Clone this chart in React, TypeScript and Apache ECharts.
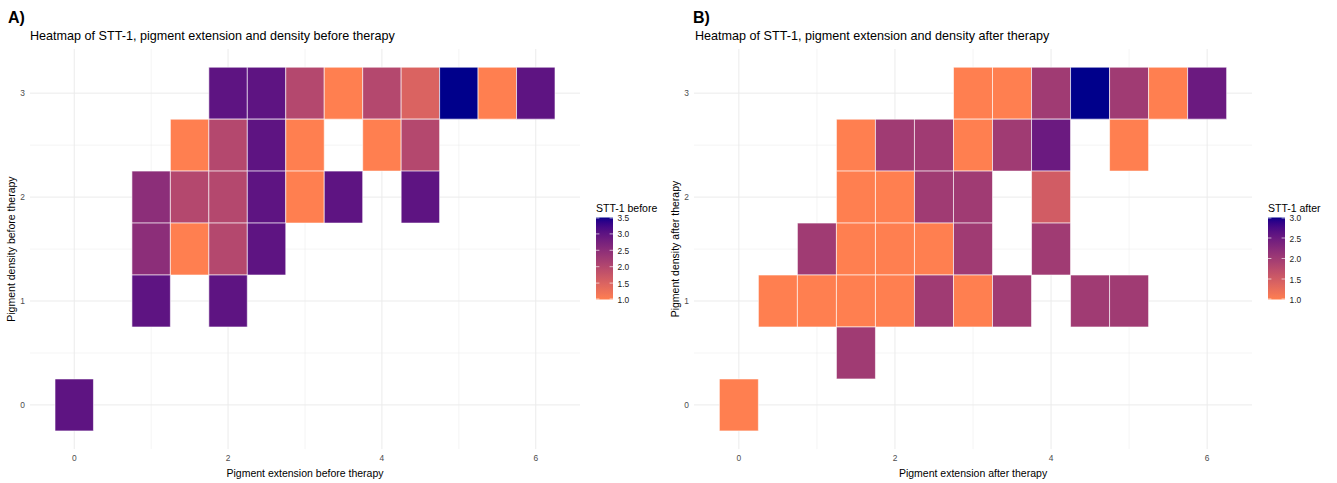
import React, { useEffect, useRef } from "react";
import * as echarts from "echarts";

// ---- Data: STT-1 by pigment extension (x) and pigment density (y) ----
const beforeExtension = [2, 2.5, 3, 3.5, 4, 4.5, 5, 5.5, 6, 1.5, 2, 2.5, 3, 4, 4.5, 1, 1.5, 2, 2.5, 3, 3.5, 4.5, 1, 1.5, 2, 2.5, 1, 2, 0];
const beforeDensity = [3, 3, 3, 3, 3, 3, 3, 3, 3, 2.5, 2.5, 2.5, 2.5, 2.5, 2.5, 2, 2, 2, 2, 2, 2, 2, 1.5, 1.5, 1.5, 1.5, 1, 1, 0];
const beforeStt = [3, 3, 2, 1, 2, 1.5, 3.5, 1, 3, 1, 2, 3, 1, 1, 2, 2.5, 2, 2, 3, 1, 3, 3, 2.5, 1, 2, 3, 3, 3, 3];

const afterExtension = [3, 3.5, 4, 4.5, 5, 5.5, 6, 1.5, 2, 2.5, 3, 3.5, 4, 5, 1.5, 2, 2.5, 3, 4, 1, 1.5, 2, 2.5, 3, 4, 0.5, 1, 1.5, 2, 2.5, 3, 3.5, 4.5, 5, 1.5, 0];
const afterDensity = [3, 3, 3, 3, 3, 3, 3, 2.5, 2.5, 2.5, 2.5, 2.5, 2.5, 2.5, 2, 2, 2, 2, 2, 1.5, 1.5, 1.5, 1.5, 1.5, 1.5, 1, 1, 1, 1, 1, 1, 1, 1, 1, 0.5, 0];
const afterStt = [1, 1, 2, 3, 2, 1, 2.5, 1, 2, 2, 1, 2, 2.5, 1, 1, 1, 2, 2, 1.5, 2, 1, 1, 1, 2, 2, 1, 1, 1, 1, 2, 1, 2, 2, 2, 2, 1];

// Axis ticks and legend breaks
const xTicks = [0, 2, 4, 6];
const yTicks = [0, 1, 2, 3];
const xGridMajor = [0, 2, 4, 6];
const xGridMinor = [1, 3, 5];
const yGridMajor = [0, 1, 2, 3];
const yGridMinor = [0.5, 1.5, 2.5];
const beforeBreaks = [1.0, 1.5, 2.0, 2.5, 3.0, 3.5];
const afterBreaks = [1.0, 1.5, 2.0, 2.5, 3.0];
const beforeRange = [1, 3.5];
const afterRange = [1, 3];

const LOW = "#FF7F50"; // coral
const HIGH = "#00008B"; // darkblue
const FONT = "'Liberation Sans', Arial, sans-serif";

// ---- CIE Lab interpolation between the two end colours ----
function hexToRgb(h: string) {
  const n = parseInt(h.slice(1), 16);
  return [(n >> 16) & 255, (n >> 8) & 255, n & 255];
}
const toLin = (c: number) => {
  const v = c / 255;
  return v <= 0.04045 ? v / 12.92 : Math.pow((v + 0.055) / 1.055, 2.4);
};
const fromLin = (v: number) => {
  const c = v <= 0.0031308 ? 12.92 * v : 1.055 * Math.pow(v, 1 / 2.4) - 0.055;
  return Math.max(0, Math.min(255, Math.round(c * 255)));
};
const Xn = 0.95047, Yn = 1.0, Zn = 1.08883;
const f = (t: number) => (t > 216 / 24389 ? Math.cbrt(t) : (841 / 108) * t + 4 / 29);
const finv = (t: number) => (t > 6 / 29 ? t * t * t : (108 / 841) * (t - 4 / 29));
function rgbToLab(hex: string) {
  const [r, g, b] = hexToRgb(hex).map(toLin);
  const X = 0.4124 * r + 0.3576 * g + 0.1805 * b;
  const Y = 0.2126 * r + 0.7152 * g + 0.0722 * b;
  const Z = 0.0193 * r + 0.1192 * g + 0.9505 * b;
  const fx = f(X / Xn), fy = f(Y / Yn), fz = f(Z / Zn);
  return [116 * fy - 16, 500 * (fx - fy), 200 * (fy - fz)];
}
function labToHex([L, a, b]: number[]) {
  const fy = (L + 16) / 116;
  const fx = fy + a / 500;
  const fz = fy - b / 200;
  const X = Xn * finv(fx), Y = Yn * finv(fy), Z = Zn * finv(fz);
  const r = 3.2406 * X - 1.5372 * Y - 0.4986 * Z;
  const g = -0.9689 * X + 1.8758 * Y + 0.0415 * Z;
  const bb = 0.0557 * X - 0.204 * Y + 1.057 * Z;
  return "#" + [r, g, bb].map((v) => fromLin(v).toString(16).padStart(2, "0")).join("");
}
const labLow = rgbToLab(LOW);
const labHigh = rgbToLab(HIGH);
function colorAt(t: number) {
  return labToHex(labLow.map((v, i) => v + (labHigh[i] - v) * t));
}
const STEPS = 40;
const rampColors = Array.from({ length: STEPS + 1 }, (_, i) => colorAt(i / STEPS));

function tiles(xs: number[], ys: number[], vs: number[]) {
  return xs.map((x, i) => [x, ys[i], vs[i]]);
}

const X_MIN = -0.575, X_MAX = 6.575;
const Y_MIN = -0.425, Y_MAX = 3.425;

function gridSeries(axisIndex: number) {
  const lines: any[] = [];
  xGridMajor.forEach((v) => lines.push(["x", v, 1]));
  xGridMinor.forEach((v) => lines.push(["x", v, 0.55]));
  yGridMajor.forEach((v) => lines.push(["y", v, 1]));
  yGridMinor.forEach((v) => lines.push(["y", v, 0.55]));
  return {
    type: "custom",
    xAxisIndex: axisIndex,
    yAxisIndex: axisIndex,
    silent: true,
    z: 1,
    data: lines.map((l) => [l[1], l[1]]),
    renderItem: (params: any, api: any) => {
      const cs = params.coordSys;
      const item = lines[params.dataIndex];
      const v = item[1];
      let shape;
      if (item[0] === "x") {
        const px = api.coord([v, 0])[0];
        shape = { x1: px, y1: cs.y, x2: px, y2: cs.y + cs.height };
      } else {
        const py = api.coord([0, v])[1];
        shape = { x1: cs.x, y1: py, x2: cs.x + cs.width, y2: py };
      }
      return {
        type: "line",
        shape,
        style: { stroke: "#EBEBEB", lineWidth: item[2] },
      };
    },
  };
}

function tileSeries(axisIndex: number, data: number[][]) {
  return {
    type: "custom",
    xAxisIndex: axisIndex,
    yAxisIndex: axisIndex,
    z: 2,
    encode: { x: 0, y: 1 },
    data,
    renderItem: (_params: any, api: any) => {
      const x = api.value(0), y = api.value(1);
      const p1 = api.coord([x - 0.25, y + 0.25]);
      const p2 = api.coord([x + 0.25, y - 0.25]);
      return {
        type: "rect",
        shape: { x: p1[0], y: p1[1], width: p2[0] - p1[0], height: p2[1] - p1[1] },
        style: { fill: api.visual("color"), stroke: "rgba(255,255,255,0.75)", lineWidth: 0.8 },
      };
    },
  };
}

function xAxis(gridIndex: number, name: string) {
  return {
    type: "value",
    gridIndex,
    min: X_MIN,
    max: X_MAX,
    name,
    nameLocation: "middle",
    nameGap: 15,
    nameTextStyle: { fontFamily: FONT, fontSize: 10.5, color: "#000" },
    axisLine: { show: false },
    axisTick: { show: false },
    splitLine: { show: false },
    axisLabel: { customValues: xTicks, fontFamily: FONT, fontSize: 8.4, color: "#4D4D4D", margin: 5 },
  };
}

function yAxis(gridIndex: number, name: string) {
  return {
    type: "value",
    gridIndex,
    min: Y_MIN,
    max: Y_MAX,
    name,
    nameLocation: "middle",
    nameGap: 12,
    nameRotate: 90,
    nameTextStyle: { fontFamily: FONT, fontSize: 10.5, color: "#000" },
    axisLine: { show: false },
    axisTick: { show: false },
    splitLine: { show: false },
    axisLabel: { customValues: yTicks, fontFamily: FONT, fontSize: 8.4, color: "#4D4D4D", margin: 5 },
  };
}

function text(x: number, y: number, str: string, size: number, opts: any = {}) {
  return {
    type: "text",
    x,
    y,
    silent: true,
    style: {
      text: str,
      fontFamily: FONT,
      fontSize: size,
      fontWeight: opts.bold ? "bold" : "normal",
      fill: opts.fill || "#000",
      align: opts.align || "left",
      verticalAlign: "middle",
      textAlign: opts.align || "left",
      textVerticalAlign: "middle",
    },
  };
}

function colorbar(left: number, title: string, breaks: number[], range: number[]) {
  const top = 217.5, height = 82, width = 17;
  const els: any[] = [];
  els.push(text(left, 208, title, 10.5));
  const stops = rampColors.map((c, i) => ({ offset: 1 - i / STEPS, color: c }));
  els.push({
    type: "rect",
    silent: true,
    shape: { x: left, y: top, width, height },
    style: { fill: new echarts.graphic.LinearGradient(0, 0, 0, 1, stops.reverse()) },
  });
  breaks.forEach((b) => {
    const y = top + height - ((b - range[0]) / (range[1] - range[0])) * height;
    const yy = Math.min(top + height - 0.5, Math.max(top + 0.5, y));
    els.push({
      type: "line",
      silent: true,
      shape: { x1: left, y1: yy, x2: left + 3.4, y2: yy },
      style: { stroke: "rgba(255,255,255,0.8)", lineWidth: 0.8 },
    });
    els.push({
      type: "line",
      silent: true,
      shape: { x1: left + width - 3.4, y1: yy, x2: left + width, y2: yy },
      style: { stroke: "rgba(255,255,255,0.8)", lineWidth: 0.8 },
    });
    els.push(text(left + width + 4.5, y + 0.5, b.toFixed(1), 8.4, { fill: "#222" }));
  });
  return els;
}

export default function App() {
  const ref = useRef<HTMLDivElement>(null);
  useEffect(() => {
    if (!ref.current) return;
    const chart = echarts.init(ref.current, undefined, { renderer: "svg" });
    const option: any = {
      animation: false,
      backgroundColor: "#fff",
      grid: [
        { left: 30, top: 49, width: 550, height: 404 },
        { left: 694, top: 49, width: 558, height: 404 },
      ],
      xAxis: [xAxis(0, "Pigment extension before therapy"), xAxis(1, "Pigment extension after therapy")],
      yAxis: [yAxis(0, "Pigment density before therapy"), yAxis(1, "Pigment density after therapy")],
      visualMap: [
        {
          type: "continuous",
          show: false,
          seriesIndex: 1,
          dimension: 2,
          min: beforeRange[0],
          max: beforeRange[1],
          inRange: { color: rampColors },
        },
        {
          type: "continuous",
          show: false,
          seriesIndex: 3,
          dimension: 2,
          min: afterRange[0],
          max: afterRange[1],
          inRange: { color: rampColors },
        },
      ],
      series: [
        gridSeries(0),
        tileSeries(0, tiles(beforeExtension, beforeDensity, beforeStt)),
        gridSeries(1),
        tileSeries(1, tiles(afterExtension, afterDensity, afterStt)),
      ],
      graphic: [
        text(8, 17, "A)", 16, { bold: true }),
        text(30, 36, "Heatmap of STT-1, pigment extension and density before therapy", 12.6),
        text(693, 17, "B)", 16, { bold: true }),
        text(695, 36, "Heatmap of STT-1, pigment extension and density after therapy", 12.6),
        ...colorbar(596, "STT-1 before", beforeBreaks, beforeRange),
        ...colorbar(1268, "STT-1 after", afterBreaks, afterRange),
      ],
    };
    chart.setOption(option);
    return () => chart.dispose();
  }, []);
  return (
    <div
      ref={ref}
      style={{ position: "absolute", left: 0, top: 0, width: 1337, height: 483 }}
    />
  );
}
